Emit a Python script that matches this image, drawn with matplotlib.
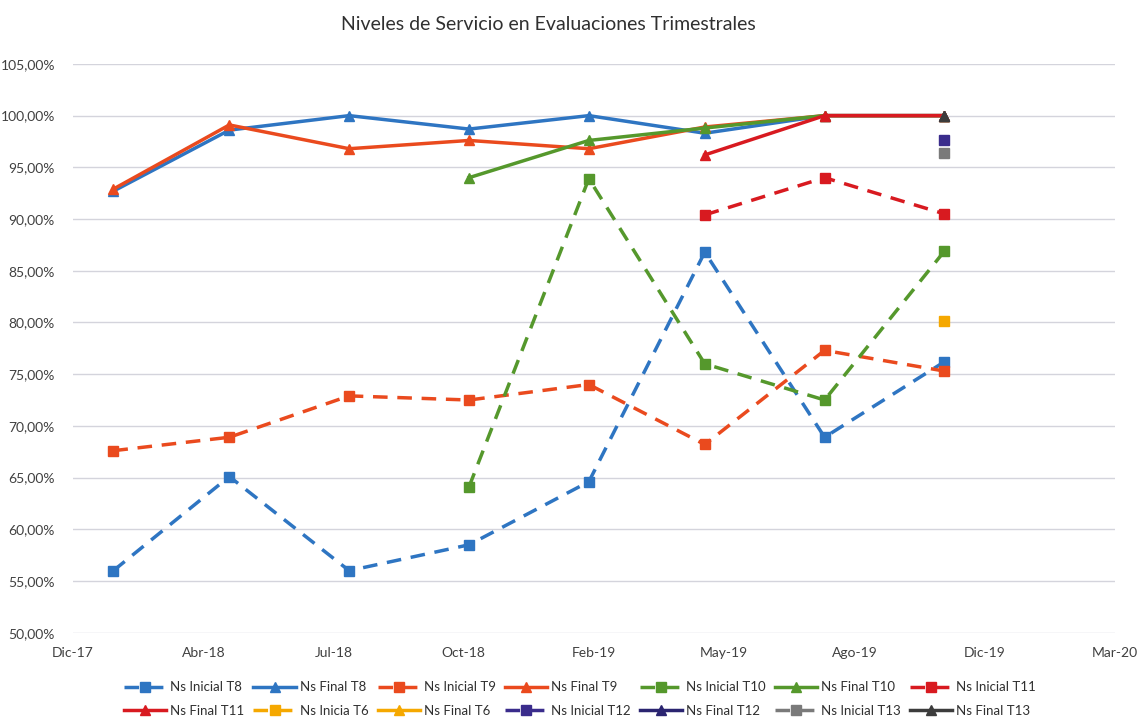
import datetime as dt
import numpy as np
import matplotlib
matplotlib.use("Agg")
import matplotlib.pyplot as plt
import matplotlib.dates as mdates
from matplotlib.ticker import FuncFormatter, MultipleLocator

plt.rcParams['font.family'] = ['Lato', 'DejaVu Sans']

nan = np.nan

# quarterly evaluation dates
fechas = ['2018-01-31', '2018-04-30', '2018-07-31', '2018-10-31',
          '2019-01-31', '2019-04-30', '2019-07-31', '2019-10-31']

ini_t8 = [0.560, 0.651, 0.560, 0.585, 0.646, 0.868, 0.689, 0.762]
fin_t8 = [0.927, 0.986, 1.000, 0.987, 1.000, 0.983, 1.000, 1.000]
ini_t9 = [0.676, 0.689, 0.729, 0.725, 0.740, 0.682, 0.773, 0.753]
fin_t9 = [0.929, 0.991, 0.968, 0.976, 0.968, 0.989, 1.000, 1.000]
ini_t10 = [nan, nan, nan, 0.641, 0.939, 0.760, 0.725, 0.869]
fin_t10 = [nan, nan, nan, 0.940, 0.976, 0.988, 1.000, 1.000]
ini_t11 = [nan, nan, nan, nan, nan, 0.904, 0.940, 0.905]
fin_t11 = [nan, nan, nan, nan, nan, 0.962, 1.000, 1.000]
ini_t6 = [nan, nan, nan, nan, nan, nan, nan, 0.801]
fin_t6 = [nan, nan, nan, nan, nan, nan, nan, 1.000]
ini_t12 = [nan, nan, nan, nan, nan, nan, nan, 0.976]
fin_t12 = [nan, nan, nan, nan, nan, nan, nan, 1.000]
ini_t13 = [nan, nan, nan, nan, nan, nan, nan, 0.964]
fin_t13 = [nan, nan, nan, nan, nan, nan, nan, 1.000]

# (label, values, color, inicial?)
series = [
    ("Ns Inicial T8", ini_t8, "#2E75C2", True),
    ("Ns Final T8", fin_t8, "#2E75C2", False),
    ("Ns Inicial T9", ini_t9, "#EA4A1E", True),
    ("Ns Final T9", fin_t9, "#EA4A1E", False),
    ("Ns Inicial T10", ini_t10, "#55982C", True),
    ("Ns Final T10", fin_t10, "#55982C", False),
    ("Ns Inicial T11", ini_t11, "#D81A20", True),
    ("Ns Final T11", fin_t11, "#D81A20", False),
    ("Ns Inicia T6", ini_t6, "#F5A800", True),
    ("Ns Final T6", fin_t6, "#F5A800", False),
    ("Ns Inicial T12", ini_t12, "#3A2C8C", True),
    ("Ns Final T12", fin_t12, "#2A2470", False),
    ("Ns Inicial T13", ini_t13, "#7A7A7A", True),
    ("Ns Final T13", fin_t13, "#3C3C3C", False),
]

meses = {1: 'Ene', 2: 'Feb', 3: 'Mar', 4: 'Abr', 5: 'May', 6: 'Jun',
         7: 'Jul', 8: 'Ago', 9: 'Sep', 10: 'Oct', 11: 'Nov', 12: 'Dic'}

x = [mdates.date2num(dt.datetime.strptime(f, "%Y-%m-%d")) for f in fechas]
x_start = mdates.date2num(dt.datetime(2017, 12, 31))
x_end = x_start + 800

fig = plt.figure(figsize=(11.39, 7.28), dpi=100)
ax = fig.add_axes([0.0641, 0.1309, 0.9149, 0.7813])

handles = []
for label, vals, color, inicial in series:
    if inicial:
        h, = ax.plot(x, vals, color=color, lw=2.5, ls=(0, (4.2, 2.8)),
                     marker='s', ms=7, mfc=color, mec=color, label=label)
    else:
        h, = ax.plot(x, vals, color=color, lw=2.5, ls='-',
                     marker='^', ms=7.5, mfc=color, mec=color, label=label)
    handles.append(h)

ax.set_xlim(x_start, x_end)
ax.set_xticks([x_start + 100 * k for k in range(9)])
ax.xaxis.set_major_formatter(FuncFormatter(
    lambda v, p: "%s-%s" % (meses[mdates.num2date(v).month],
                            mdates.num2date(v).strftime("%y"))))

ax.set_ylim(0.5, 1.05)
ax.yaxis.set_major_locator(MultipleLocator(0.05))
ax.yaxis.set_major_formatter(FuncFormatter(
    lambda v, p: ("%.2f%%" % (v * 100)).replace('.', ',')))

ax.grid(axis='y', color='#D4D4DC', lw=1)
ax.set_axisbelow(True)
for s in ax.spines.values():
    s.set_visible(False)
ax.tick_params(length=0, labelsize=10, colors='#404040')
ax.tick_params(axis='x', pad=10)
ax.tick_params(axis='y', pad=13)

fig.text(548 / 1139, 1 - 24 / 728, "Niveles de Servicio en Evaluaciones Trimestrales",
         ha='center', va='center', fontsize=14, color='#303030')

# legend filled row by row, 7 per row
order = []
for c in range(7):
    order += [c, c + 7]
leg = fig.legend([handles[i] for i in order], [series[i][0] for i in order],
                 ncol=7, loc='center', bbox_to_anchor=(580 / 1139, 1 - 699 / 728),
                 frameon=False, fontsize=9.5, handlelength=3.2, handletextpad=0.3,
                 columnspacing=0.7, labelspacing=0.85, numpoints=1,
                 labelcolor='#303030')

fig.savefig("out.png", dpi=100)
